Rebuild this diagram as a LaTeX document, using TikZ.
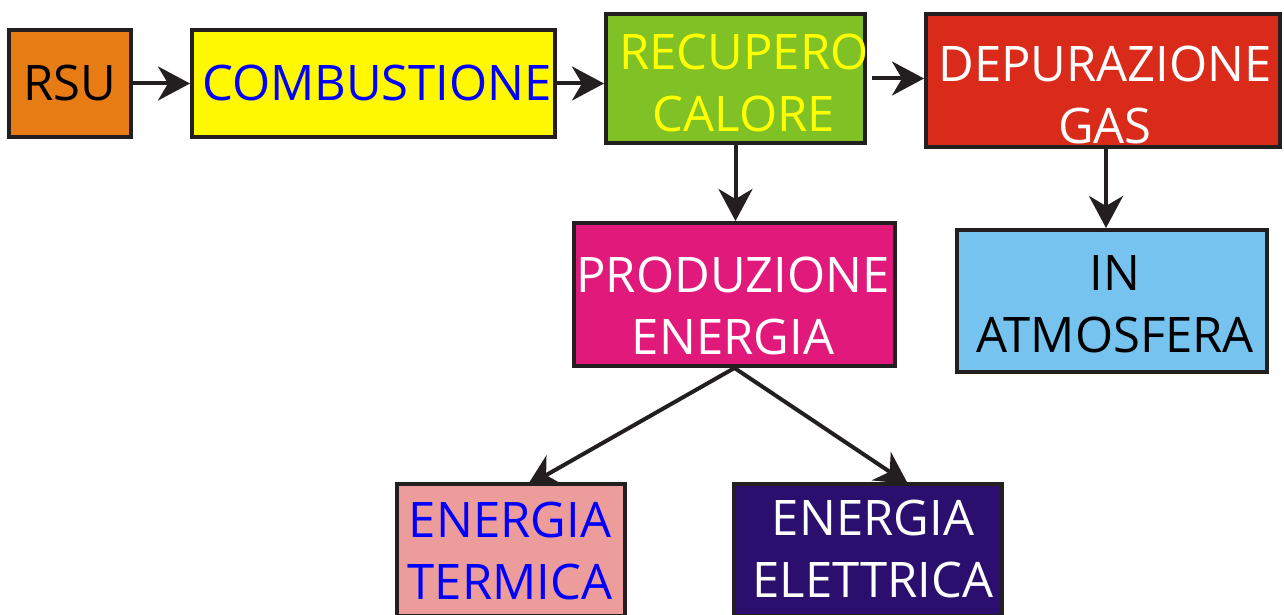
\documentclass[tikz,border=0pt]{standalone}
\usepackage{fontspec}
\setmainfont{Open Sans}
\usetikzlibrary{arrows.meta}
\definecolor{cOrange}{HTML}{E87C14}
\definecolor{cYellow}{HTML}{FFF800}
\definecolor{cGreen}{HTML}{80C225}
\definecolor{cRed}{HTML}{DA2A1A}
\definecolor{cMagenta}{HTML}{E0197A}
\definecolor{cSky}{HTML}{77C3F0}
\definecolor{cPink}{HTML}{ED9C9C}
\definecolor{cNavy}{HTML}{2A0F6E}
\definecolor{cBlue}{HTML}{0000FF}
\definecolor{cTxtYellow}{HTML}{FFFF00}
\definecolor{cLine}{HTML}{231F20}
\tikzset{
  box/.style={draw=cLine, line width=4pt, rectangle, inner sep=0pt},
  txt/.style={inner sep=0pt, align=center, font=\fontsize{49}{62}\selectfont},
  arr/.style={draw=cLine, line width=4pt, -{Stealth[length=32pt,width=34pt,inset=10pt]}}
}
\begin{document}
\begin{tikzpicture}[x=1pt,y=-1pt]
\useasboundingbox (0,0) rectangle (1284,615);
% boxes
\node[box, fill=cOrange, minimum width=122pt, minimum height=107pt] (rsu) at (70,83.5) {};
\node[box, fill=cYellow, minimum width=363pt, minimum height=107pt] (comb) at (373.5,83.5) {};
\node[box, fill=cGreen, minimum width=259pt, minimum height=129pt] (recup) at (735.5,78.5) {};
\node[box, fill=cRed, minimum width=354pt, minimum height=133pt] (depur) at (1103,80.5) {};
\node[box, fill=cMagenta, minimum width=321pt, minimum height=143pt] (prod) at (734.5,294.5) {};
\node[box, fill=cSky, minimum width=310pt, minimum height=142pt] (atmos) at (1112,301) {};
\node[box, fill=cPink, minimum width=228pt, minimum height=132pt] (term) at (511,550) {};
\node[box, fill=cNavy, minimum width=268pt, minimum height=132pt] (elet) at (868,550) {};
% texts
\node[txt, text=black] (trsu) at (70,83) {RSU};
\node[txt, text=cBlue] (tcomb) at (377,83) {COMBUSTIONE};
\node[txt, text=cTxtYellow] (trecup) at (744,82.5) {RECUPERO\\CALORE};
\node[txt, text=white] (tdepur) at (1105,95) {DEPURAZIONE\\GAS};
\node[txt, text=white] (tprod) at (733,306) {PRODUZIONE\\ENERGIA};
\node[txt, text=black] (tatmos) at (1115,304) {IN\\ATMOSFERA};
\node[txt, text=cBlue] (tterm) at (510,551) {ENERGIA\\TERMICA};
\node[txt, text=white] (telet) at (873,549) {ENERGIA\\ELETTRICA};
% connectors
\draw[arr] (rsu.east) -- (rsu.east -| comb.west);
\draw[arr] (comb.east) -- (comb.east -| recup.west);
\draw[arr] ([xshift=5pt]recup.east) -- (recup.east -| depur.west);
\draw[arr] (recup.south) -- (recup.south |- prod.north);
\draw[arr] ([xshift=3pt]depur.south) -- ([xshift=3pt]depur.south |- atmos.north);
\coordinate (tt) at ([xshift=16pt,yshift=-4pt]term.north);
\coordinate (te) at ([xshift=40pt,yshift=-2pt]elet.north);
\draw[arr] (prod.south) -- (tt);
\draw[arr] (prod.south) -- (te);
\end{tikzpicture}
\end{document}
